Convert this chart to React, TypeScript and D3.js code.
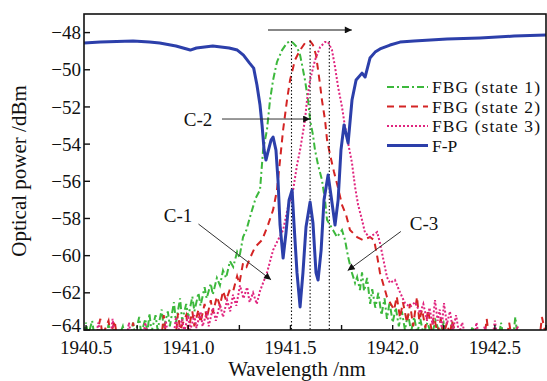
import React from "react";
import * as d3 from "d3";

// wavelength (nm), optical power (dBm)
const fpSpectrum: [number, number][] = [
  [1940.49, -48.56], [1940.57, -48.51], [1940.73, -48.45], [1940.81, -48.51], [1940.86, -48.56],
  [1940.94, -48.72], [1941.01, -48.94], [1941.04, -48.83], [1941.12, -48.72], [1941.2, -48.83],
  [1941.24, -48.94], [1941.27, -49.21], [1941.3, -49.64], [1941.32, -49.91], [1941.336, -50.82],
  [1941.351, -51.9], [1941.361, -52.97], [1941.371, -54.32], [1941.38, -54.86], [1941.39, -54.42],
  [1941.405, -53.78], [1941.415, -53.62], [1941.429, -54.32], [1941.439, -55.93], [1941.449, -58.35],
  [1941.464, -60.13], [1941.478, -58.78], [1941.493, -57.01], [1941.508, -56.47], [1941.517, -58.24],
  [1941.532, -60.93], [1941.547, -62.76], [1941.561, -60.93], [1941.576, -58.46], [1941.596, -57.11],
  [1941.61, -58.24], [1941.625, -60.93], [1941.635, -61.31], [1941.65, -59.7], [1941.664, -57.01],
  [1941.684, -55.66], [1941.698, -56.74], [1941.718, -58.35], [1941.733, -57.01], [1941.747, -54.32],
  [1941.762, -52.97], [1941.782, -53.94], [1941.801, -51.63], [1941.821, -50.55], [1941.85, -50.18],
  [1941.865, -50.39], [1941.889, -49.37], [1941.914, -49.05], [1941.938, -48.88], [1941.987, -48.67],
  [1942.036, -48.51], [1942.104, -48.45], [1942.266, -48.35], [1942.427, -48.29], [1942.594, -48.19],
  [1942.75, -48.13],
];

const fbgState1: [number, number][] = [
  [1940.49, -64.2], [1940.5, -63.6], [1940.51, -64.3], [1940.53, -63.5], [1940.54, -64.3],
  [1940.6, -64.3], [1940.61, -63.7], [1940.62, -64.3], [1940.66, -64.4], [1940.68, -63.8],
  [1940.69, -64.3], [1940.72, -64.3], [1940.73, -63.6], [1940.74, -64.3], [1940.76, -63.3],
  [1940.77, -64.2], [1940.79, -63.4], [1940.8, -64.2], [1940.81, -63.1], [1940.82, -64.1],
  [1940.84, -63.2], [1940.85, -64.0], [1940.87, -62.9], [1940.88, -63.9], [1940.9, -63.0],
  [1940.91, -63.8], [1940.93, -62.5], [1940.94, -63.6], [1940.96, -62.3], [1940.97, -63.5],
  [1940.99, -62.6], [1941.0, -63.3], [1941.02, -62.2], [1941.03, -63.0], [1941.05, -62.0],
  [1941.06, -62.7], [1941.08, -61.7], [1941.09, -62.3], [1941.11, -61.5], [1941.12, -62.1],
  [1941.14, -61.2], [1941.155, -61.6], [1941.17, -60.8], [1941.185, -61.2], [1941.204, -60.3],
  [1941.22, -60.6], [1941.239, -59.8], [1941.25, -60.1], [1941.268, -59.0], [1941.285, -58.6],
  [1941.302, -57.92], [1941.33, -56.9], [1941.351, -56.47],
  [1941.366, -54.32], [1941.385, -53.24], [1941.4, -51.63], [1941.415, -50.55], [1941.434, -49.58],
  [1941.459, -48.94], [1941.483, -48.56], [1941.498, -48.45], [1941.513, -48.56], [1941.532, -48.78],
  [1941.547, -49.21], [1941.557, -49.75], [1941.571, -50.55], [1941.586, -51.63], [1941.596, -52.7],
  [1941.61, -53.51], [1941.62, -54.32], [1941.635, -55.12], [1941.654, -55.93], [1941.669, -57.01],
  [1941.679, -58.08], [1941.708, -58.62], [1941.728, -59.0], [1941.752, -58.62], [1941.767, -59.16],
  [1941.782, -60.07], [1941.801, -60.93], [1941.816, -61.47], [1941.826, -61.15], [1941.84, -61.85],
  [1941.85, -60.9], [1941.86, -61.9], [1941.875, -61.2], [1941.89, -62.6], [1941.9, -61.8],
  [1941.915, -62.8], [1941.93, -62.0], [1941.945, -63.2], [1941.96, -62.3], [1941.972, -63.4],
  [1941.985, -62.5], [1942.0, -63.6], [1942.015, -62.8], [1942.03, -63.8], [1942.045, -63.0],
  [1942.06, -64.0], [1942.075, -63.1], [1942.09, -64.1], [1942.105, -63.3], [1942.12, -64.2],
  [1942.135, -63.4], [1942.15, -64.2], [1942.17, -63.6], [1942.19, -64.3], [1942.21, -63.5],
  [1942.23, -64.2], [1942.25, -63.6], [1942.27, -64.3], [1942.29, -63.7], [1942.31, -64.3],
  [1942.38, -64.3], [1942.39, -63.8], [1942.4, -64.3], [1942.52, -64.3], [1942.53, -63.6],
  [1942.54, -64.3], [1942.59, -64.3], [1942.6, -63.3], [1942.61, -64.3], [1942.75, -64.2],
];

const fbgState2: [number, number][] = [
  [1940.49, -64.3], [1940.55, -64.3], [1940.57, -63.4], [1940.58, -64.3], [1940.61, -63.5],
  [1940.62, -64.3], [1940.64, -63.5], [1940.65, -64.3], [1940.72, -64.3], [1940.73, -63.6],
  [1940.74, -64.3], [1940.87, -64.3], [1940.88, -63.2], [1940.89, -64.2], [1940.94, -64.2],
  [1940.95, -63.1], [1940.96, -64.0], [1940.99, -63.2], [1941.0, -64.0], [1941.02, -63.0],
  [1941.03, -63.8], [1941.05, -62.9], [1941.06, -63.6], [1941.08, -62.6], [1941.09, -63.4],
  [1941.11, -62.4], [1941.12, -63.1], [1941.14, -62.2], [1941.155, -62.7], [1941.17, -61.9],
  [1941.185, -62.4], [1941.204, -61.8], [1941.22, -61.9], [1941.239, -61.1], [1941.25, -61.5],
  [1941.268, -60.4], [1941.285, -60.6], [1941.302, -60.13], [1941.327, -59.54], [1941.361, -59.16],
  [1941.39, -58.35], [1941.415, -57.54], [1941.434, -56.47], [1941.449, -54.86], [1941.464, -53.24],
  [1941.483, -51.63], [1941.498, -50.55], [1941.522, -49.48], [1941.547, -48.94], [1941.571, -48.56],
  [1941.596, -48.45], [1941.61, -48.67], [1941.625, -49.21], [1941.635, -50.01], [1941.645, -50.82],
  [1941.654, -51.63], [1941.669, -52.7], [1941.679, -53.78], [1941.694, -54.59], [1941.713, -55.5],
  [1941.733, -56.36], [1941.752, -57.27], [1941.772, -57.81], [1941.791, -58.62], [1941.826, -59.0],
  [1941.855, -59.16], [1941.889, -59.0], [1941.909, -59.16], [1941.924, -60.02], [1941.938, -60.93],
  [1941.958, -61.69], [1941.972, -62.22], [1942.007, -62.92], [1942.02, -62.2], [1942.036, -63.35],
  [1942.05, -62.5], [1942.07, -63.6], [1942.085, -62.6], [1942.1, -63.8], [1942.119, -62.22],
  [1942.13, -63.5], [1942.144, -62.9], [1942.16, -63.9], [1942.173, -62.9], [1942.19, -64.0],
  [1942.202, -63.3], [1942.22, -64.2], [1942.235, -63.4], [1942.25, -64.2], [1942.266, -63.6],
  [1942.28, -64.3], [1942.29, -63.5], [1942.31, -64.3], [1942.45, -64.3], [1942.46, -63.4],
  [1942.47, -64.3], [1942.56, -64.3], [1942.57, -63.6], [1942.58, -64.3], [1942.72, -64.3],
  [1942.73, -63.3], [1942.75, -64.3],
];

const fbgState3: [number, number][] = [
  [1940.49, -64.3], [1940.55, -64.3], [1940.56, -63.6], [1940.57, -64.3], [1940.62, -64.3],
  [1940.63, -63.4], [1940.64, -64.3], [1940.7, -64.3], [1940.71, -63.6], [1940.72, -64.3],
  [1940.78, -64.3], [1940.79, -63.6], [1940.8, -64.3], [1940.88, -64.3], [1940.89, -63.5],
  [1940.9, -64.2], [1940.93, -64.2], [1940.94, -63.3], [1940.95, -64.1], [1940.97, -63.4],
  [1940.98, -64.1], [1941.0, -63.2], [1941.01, -64.0], [1941.03, -63.2], [1941.04, -63.9],
  [1941.06, -63.0], [1941.07, -63.8], [1941.092, -63.0], [1941.1, -63.8], [1941.121, -62.8],
  [1941.135, -63.5], [1941.155, -62.6], [1941.17, -63.3], [1941.19, -62.4], [1941.205, -63.0],
  [1941.219, -62.1], [1941.235, -62.7], [1941.253, -61.6], [1941.27, -62.3], [1941.288, -61.7],
  [1941.3, -62.5], [1941.317, -62.0], [1941.335, -62.6], [1941.351, -61.9], [1941.366, -61.47],
  [1941.385, -60.93], [1941.415, -59.7], [1941.439, -59.16], [1941.464, -58.62], [1941.488, -57.38],
  [1941.513, -56.47], [1941.532, -55.12], [1941.547, -54.32], [1941.571, -52.7], [1941.581, -51.63],
  [1941.596, -50.55], [1941.62, -49.48], [1941.645, -48.78], [1941.669, -48.51], [1941.684, -48.51],
  [1941.703, -48.94], [1941.718, -49.85], [1941.733, -50.93], [1941.752, -52.0], [1941.767, -53.08],
  [1941.782, -53.94], [1941.801, -55.02], [1941.816, -56.31], [1941.831, -57.27], [1941.85, -58.08],
  [1941.865, -58.78], [1941.889, -59.0], [1941.924, -58.73], [1941.938, -59.32], [1941.958, -60.4],
  [1941.972, -61.15], [1941.987, -61.47], [1942.011, -61.31], [1942.031, -61.85], [1942.046, -62.22],
  [1942.06, -62.55], [1942.085, -62.76], [1942.11, -62.5], [1942.134, -63.09], [1942.15, -62.6],
  [1942.168, -63.5], [1942.18, -62.8], [1942.195, -63.7], [1942.207, -62.39], [1942.22, -63.5],
  [1942.23, -62.9], [1942.24, -63.9], [1942.251, -62.55], [1942.265, -63.7], [1942.28, -63.0],
  [1942.295, -64.0], [1942.31, -63.2], [1942.325, -64.2], [1942.34, -63.6], [1942.355, -64.3],
  [1942.4, -64.3], [1942.41, -63.6], [1942.42, -64.3], [1942.44, -64.3], [1942.45, -63.8],
  [1942.46, -64.3], [1942.49, -64.3], [1942.5, -63.5], [1942.51, -64.3], [1942.6, -64.3],
  [1942.61, -63.8], [1942.62, -64.3], [1942.75, -64.3],
];

const xTicks = [1940.5, 1940.75, 1941.0, 1941.25, 1941.5, 1941.75, 1942.0, 1942.25, 1942.5, 1942.75];
const xTickLabels = ["1940.5", "1941.0", "1941.5", "1942.0", "1942.5"];
const yTicks = [-64, -62, -60, -58, -56, -54, -52, -50, -48];

// peak markers (dotted verticals)
const peakWavelengths = [1941.505, 1941.596, 1941.69];

const seriesNames = ["FBG (state 1)", "FBG (state 2)", "FBG (state 3)", "F-P"];

const W = 547;
const H = 381;
const left = 84, right = 546, top = 14, bottom = 330;
const font = "'Liberation Serif', 'Times New Roman', serif";

export default function App() {
  const x = d3.scaleLinear().domain([1940.49, 1942.75]).range([left, right]);
  const y = d3.scaleLinear().domain([-64, -47]).range([bottom, top]);
  const line = d3.line<[number, number]>().x(d => x(d[0])).y(d => y(d[1]));

  const styles = [
    { color: "#3cb83c", dash: "7 3 2 3", width: 2 },
    { color: "#d42424", dash: "7 5", width: 2 },
    { color: "#e0247e", dash: "2 2", width: 2 },
    { color: "#2c3faa", dash: "", width: 3 },
  ];
  const data = [fbgState1, fbgState2, fbgState3, fpSpectrum];

  const legendY = [87, 106.5, 126, 145.5];
  const legendLen = [108, 108, 108, 0];

  return (
    <svg width={W} height={H} style={{ position: "absolute", left: 0, top: 0, background: "#fff" }}>
      <defs>
        <clipPath id="plot">
          <rect x={left} y={top} width={right - left} height={bottom - top} />
        </clipPath>
        <marker id="ah" viewBox="0 0 10 10" refX="10" refY="5" markerWidth="9" markerHeight="7" markerUnits="userSpaceOnUse" orient="auto">
          <path d="M0,0 L10,5 L0,10 Z" fill="#111" />
        </marker>
      </defs>

      <g clipPath="url(#plot)">
        {data.slice(0, 3).map((d, i) => (
          <path key={i} d={line(d) || ""} fill="none" stroke={styles[i].color}
            strokeWidth={styles[i].width} strokeDasharray={styles[i].dash} />
        ))}
        {peakWavelengths.map((p, i) => (
          <line key={i} x1={x(p)} x2={x(p)} y1={y(-48.45)} y2={bottom} stroke="#111"
            strokeWidth={1.1} strokeDasharray="1.5 2" />
        ))}
        <path d={line(fpSpectrum) || ""} fill="none" stroke={styles[3].color} strokeWidth={styles[3].width}
          strokeLinejoin="round" />
      </g>

      {/* frame */}
      <rect x={left} y={top} width={right - left} height={bottom - top} fill="none" stroke="#111" strokeWidth={1.6} />

      {/* ticks */}
      {yTicks.map(t => (
        <g key={t}>
          <line x1={left} x2={left + 6} y1={y(t)} y2={y(t)} stroke="#111" strokeWidth={1.4} />
          <text x={81} y={t === -64 ? y(t) - 5 : y(t)} dy="0.35em" textAnchor="end" fontFamily={font} fontSize={19} fill="#111">
            {"\u2212" + Math.abs(t)}
          </text>
        </g>
      ))}
      {xTicks.map(t => (
        <line key={t} x1={x(t)} x2={x(t)} y1={bottom} y2={bottom - 5} stroke="#111" strokeWidth={1.4} />
      ))}
      {xTickLabels.map(l => (
        <text key={l} x={x(+l)} y={354} textAnchor="middle" fontFamily={font} fontSize={19} fill="#111">{l}</text>
      ))}

      <text x={297} y={376} textAnchor="middle" fontFamily={font} fontSize={21} fill="#111">Wavelength /nm</text>
      <text transform={`translate(26,171) rotate(-90)`} textAnchor="middle" fontFamily={font} fontSize={21} fill="#111">
        Optical power /dBm
      </text>

      {/* shift arrow */}
      <line x1={x(1941.39)} x2={x(1941.8)} y1={y(-47.86)} y2={y(-47.86)} stroke="#111" strokeWidth={1.2} markerEnd="url(#ah)" />

      {/* annotations */}
      <text x={198} y={119} dy="0.35em" textAnchor="middle" fontFamily={font} fontSize={19} fill="#111">C-2</text>
      <line x1={x(1941.165)} x2={x(1941.596)} y1={y(-52.65)} y2={y(-52.65)} stroke="#333" strokeWidth={1} markerEnd="url(#ah)" />
      <text x={178} y={215} dy="0.35em" textAnchor="middle" fontFamily={font} fontSize={19} fill="#111">C-1</text>
      <line x1={x(1941.05)} x2={x(1941.405)} y1={y(-58.3)} y2={y(-61.3)} stroke="#333" strokeWidth={1} markerEnd="url(#ah)" />
      <text x={424} y={223} dy="0.35em" textAnchor="middle" fontFamily={font} fontSize={19} fill="#111">C-3</text>
      <line x1={x(1942.04)} x2={x(1941.78)} y1={y(-58.7)} y2={y(-60.8)} stroke="#333" strokeWidth={1} markerEnd="url(#ah)" />

      {/* legend */}
      {seriesNames.map((n, i) => (
        <g key={n}>
          <line x1={387} x2={428} y1={legendY[i]} y2={legendY[i]} stroke={styles[i].color}
            strokeWidth={styles[i].width} strokeDasharray={styles[i].dash} />
          <text x={432} y={legendY[i]} dy="0.35em" fontFamily={font} fontSize={17.5} fill="#111"
            {...(legendLen[i] ? { textLength: legendLen[i], lengthAdjust: "spacing" } : {})}>{n}</text>
        </g>
      ))}
    </svg>
  );
}
